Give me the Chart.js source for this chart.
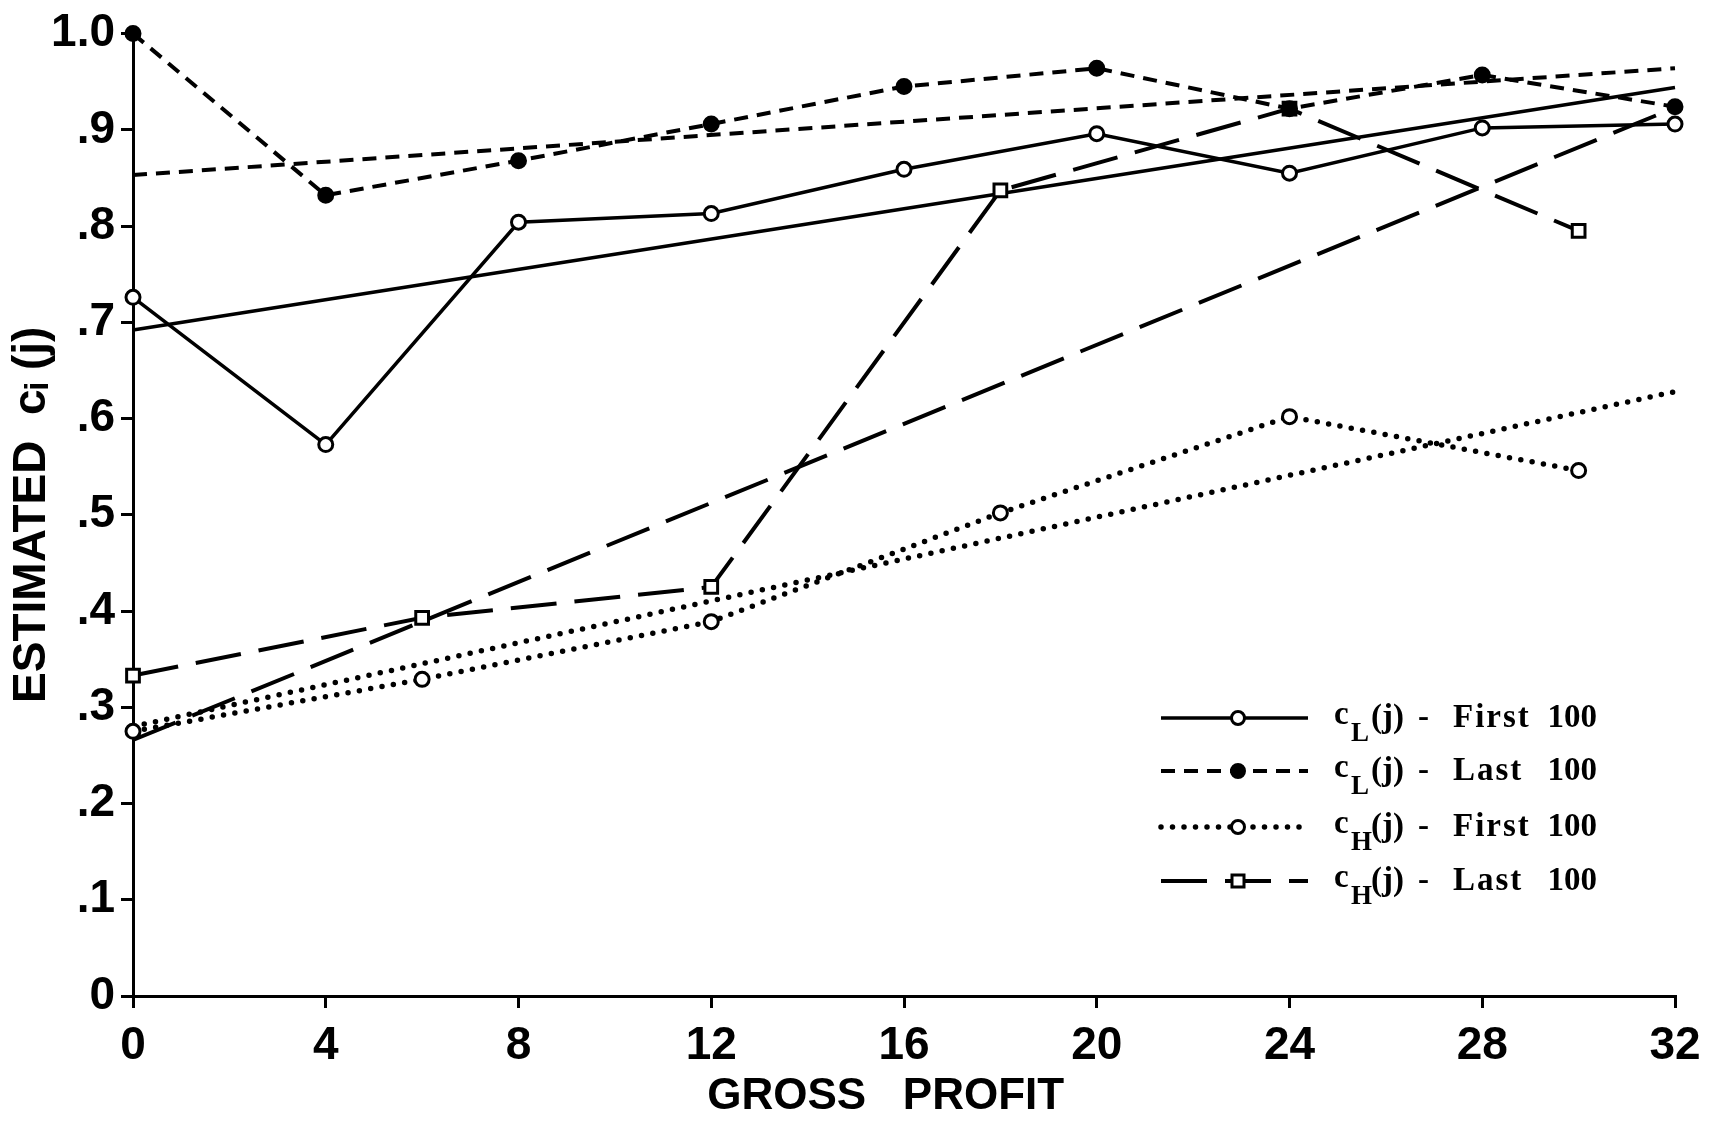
<!DOCTYPE html>
<html>
<head>
<meta charset="utf-8">
<script src="https://cdn.jsdelivr.net/npm/chart.js@4.4.1/dist/chart.umd.min.js"></script>
<style>
  html, body { margin: 0; padding: 0; background: #fff; }
</style>
</head>
<body>
<canvas id="chart" width="1713" height="1123"></canvas>
<script>
// gross profit values where the points were measured
const profitL = [0, 4, 8, 12, 16, 20, 24, 28, 32];
const profitH = [0, 6, 12, 18, 24, 30];

// estimated c values
const cLFirst = [0.726, 0.573, 0.804, 0.813, 0.859, 0.896, 0.855, 0.902, 0.906];
const cLLast  = [1.000, 0.832, 0.868, 0.906, 0.945, 0.964, 0.922, 0.957, 0.924];
const cHFirst = [0.275, 0.329, 0.389, 0.502, 0.602, 0.546];
const cHLast  = [0.333, 0.393, 0.425, 0.837, 0.922, 0.795];

// fitted straight lines (end points)
const fitEnds    = [0, 32];
const cLFirstFit = [0.692, 0.944];
const cLLastFit  = [0.853, 0.964];
const cHFirstFit = [0.280, 0.628];
const cHLastFit  = [0.266, 0.923];

const legendSub  = ['L', 'L', 'H', 'H'];
const legendWord = ['First', 'Last', 'First', 'Last'];

function pts(xs, ys) {
  return xs.map((x, i) => ({ x: x, y: ys[i] }));
}

const SOLID = [];
const SHORT = [14, 9];
const DOTS = [0, 11.5];
const LONG = [46, 18];

const datasets = [
  { data: pts(profitL, cLFirst), borderDash: SOLID, borderWidth: 3.5, pointStyle: 'circle', pointRadius: 7, pointBackgroundColor: '#fff' },
  { data: pts(profitL, cLLast), borderDash: SHORT, borderWidth: 4, pointStyle: 'circle', pointRadius: 7, pointBackgroundColor: '#000' },
  { data: pts(profitH, cHFirst), borderDash: DOTS, borderWidth: 5.5, pointStyle: 'circle', pointRadius: 7, pointBackgroundColor: '#fff' },
  { data: pts(profitH, cHLast), borderDash: LONG, borderWidth: 4, pointStyle: 'rect', pointRadius: 9, pointBackgroundColor: '#fff' },
  { data: pts(fitEnds, cLFirstFit), borderDash: SOLID, borderWidth: 3.5, pointRadius: 0 },
  { data: pts(fitEnds, cLLastFit), borderDash: SHORT, borderWidth: 4, pointRadius: 0 },
  { data: pts(fitEnds, cHFirstFit), borderDash: DOTS, borderWidth: 5.5, pointRadius: 0 },
  { data: pts(fitEnds, cHLastFit), borderDash: LONG, borderWidth: 4, pointRadius: 0 }
];
datasets.forEach(d => {
  d.borderColor = '#000';
  d.pointBorderColor = '#000';
  d.pointBorderWidth = 3;
  d.borderCapStyle = d.borderDash === DOTS ? 'round' : 'butt';
  d.tension = 0;
  d.clip = false;
});

// legend drawn on the right, with subscripts
const sideLegend = {
  id: 'sideLegend',
  afterDraw(chart) {
    const ctx = chart.ctx;
    const rows = [718, 771, 827, 881];
    const serif = '"Liberation Serif", "DejaVu Serif", serif';
    ctx.save();
    for (let i = 0; i < 4; i++) {
      const ds = chart.data.datasets[i];
      const y = rows[i];
      ctx.strokeStyle = '#000';
      ctx.lineWidth = ds.borderWidth;
      ctx.lineCap = ds.borderCapStyle;
      ctx.setLineDash(ds.borderDash);
      ctx.beginPath();
      ctx.moveTo(1161, y);
      ctx.lineTo(1308, y);
      ctx.stroke();
      ctx.setLineDash([]);
      ctx.lineWidth = 3;
      ctx.fillStyle = ds.pointBackgroundColor;
      ctx.beginPath();
      if (ds.pointStyle === 'rect') {
        ctx.rect(1238 - 6, y - 6, 12, 12);
      } else {
        ctx.arc(1238, y, 6.5, 0, Math.PI * 2);
      }
      ctx.fill();
      ctx.stroke();

      ctx.fillStyle = '#000';
      ctx.textBaseline = 'alphabetic';
      ctx.textAlign = 'left';
      ctx.font = 'bold 33px ' + serif;
      ctx.fillText('c', 1334, y + 6);
      ctx.font = 'bold 27px ' + serif;
      ctx.fillText(legendSub[i], 1351, y + 23);
      ctx.font = 'bold 33px ' + serif;
      ctx.fillText('(j)', 1371, y + 9);
      ctx.fillText('-', 1418, y + 9);
      ctx.letterSpacing = '2px';
      ctx.fillText(legendWord[i], 1453, y + 9);
      ctx.letterSpacing = '0px';
      ctx.textAlign = 'right';
      ctx.fillText('100', 1597, y + 9);
    }
    ctx.restore();
  }
};

const axisFont = { family: '"Liberation Sans", "DejaVu Sans", sans-serif', size: 46, weight: 'bold' };

new Chart(document.getElementById('chart'), {
  type: 'line',
  data: { datasets: datasets },
  plugins: [sideLegend],
  options: {
    responsive: false,
    devicePixelRatio: 1,
    animation: false,
    layout: { padding: { left: 0, right: 38, top: 27, bottom: 0 } },
    plugins: { legend: { display: false }, tooltip: { enabled: false } },
    scales: {
      x: {
        type: 'linear',
        min: 0,
        max: 32,
        ticks: { stepSize: 4, color: '#000', font: axisFont, padding: 11, maxRotation: 0 },
        grid: { drawOnChartArea: false, drawTicks: true, tickLength: 12, color: '#000', lineWidth: 3 },
        border: { color: '#000', width: 3 },
        title: { display: true, text: 'GROSS   PROFIT\u00a0\u00a0\u00a0', color: '#000', font: { family: axisFont.family, size: 44, weight: 'bold' }, padding: 0 },
        afterFit: s => { s.height = 127; }
      },
      y: {
        min: 0,
        max: 1,
        ticks: {
          stepSize: 0.1,
          color: '#000',
          font: axisFont,
          padding: 6,
          callback: v => {
            const n = Math.round(v * 10);
            if (n === 0) return '0';
            if (n === 10) return '1.0';
            return '.' + n;
          }
        },
        grid: { drawOnChartArea: false, drawTicks: true, tickLength: 12, color: '#000', lineWidth: 3 },
        border: { color: '#000', width: 3 },
        title: { display: true, text: 'ESTIMATED  cᵢ (j)', color: '#000', font: { family: axisFont.family, size: 46, weight: 'bold' }, padding: 5 },
        afterFit: s => { s.width = 133; }
      }
    }
  }
});
</script>
</body>
</html>
